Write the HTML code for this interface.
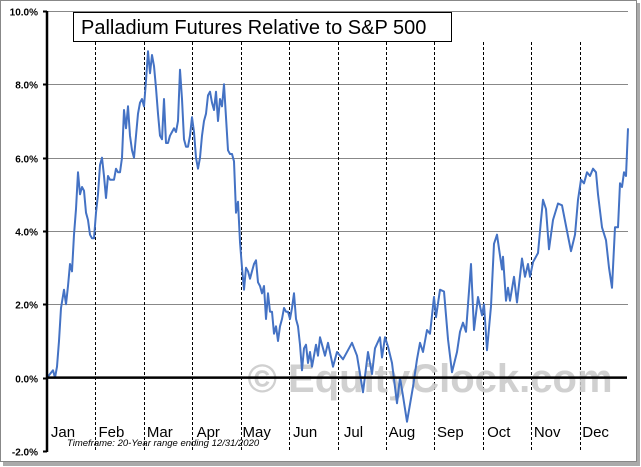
<!DOCTYPE html>
<html><head><meta charset="utf-8"><style>
body{margin:0;background:#fff;}
svg{display:block;font-family:"Liberation Sans",sans-serif;}
</style></head><body>
<svg width="641" height="467" viewBox="0 0 641 467">
<rect x="3" y="3" width="637" height="463" fill="#aaa"/>
<rect x="0.5" y="0.5" width="636" height="461" fill="#fff" stroke="#888"/>
<g id="grid"></g>
<g id="months"></g>
<text x="430" y="392" font-size="40" font-weight="bold" fill="#c8c8c8" text-anchor="middle" opacity="0.85">© EquityClock.com</text>
<g id="yticks"></g>
<path id="series" fill="none" stroke="#4472C4" stroke-width="2" stroke-linejoin="round"/>
<g id="axes"></g>
<g id="mlabels"></g>
<rect x="73.5" y="12.5" width="378" height="29" fill="#fff" stroke="#000"/>
<text x="81" y="34" font-size="20" fill="#000">Palladium Futures Relative to S&amp;P 500</text>
<text x="67" y="446" font-size="9.5" font-style="italic" fill="#000">Timeframe:   20-Year range  ending 12/31/2020</text>
</svg>
<script>
const yTicks=[-2,0,2,4,6,8,10];
const monthLabels=["Jan","Feb","Mar","Apr","May","Jun","Jul","Aug","Sep","Oct","Nov","Dec"];
const sessions=[0,3,6,8,10,12,14,17,19,21,23,25,27,29,31,33,35,37,39,41,43,45,47,49,51,53,55,57,59,61,63,65,67,69,71,73,75,77,79,81,83,85,87,89,91,93,95,97,99,101,103,105,107,109,111,113,115,117,119,121,123,125,127,129,131,133,135,137,139,141,143,145,147,149,151,153,155,157,159,161,163,165,167,169,171,173,175,177,179,181,183,185,187,189,191,193,195,197,199,201,203,205,207,209,211,213,215,217,219,221,223,225,227,229,231,233,235,237,239,241,243,245,247,249,251,253,255,257,259,261,263,265,267,269,271,273,278,281,286,290,296,305,310,316,321,325,328,333,335,338,341,345,350,353,356,360,366,370,373,376,380,383,387,389,393,397,401,405,410,413,416,419,424,427,431,435,437,440,444,447,450,455,456,459,461,463,467,470,475,478,481,483,486,491,494,496,499,502,506,511,515,520,524,528,531,534,537,540,543,546,549,551,555,559,562,565,568,571,573,575,577,579,581];
const values=[0,.1,.2,0,.3,1.0,1.9,2.4,2.0,2.5,3.1,2.9,3.9,4.6,5.6,5.0,5.2,5.1,4.5,4.3,3.9,3.8,3.8,4.5,5.0,5.8,6.0,5.5,4.9,5.5,5.4,5.4,5.4,5.7,5.6,5.6,6.0,7.3,6.8,7.4,6.6,6.2,6.0,6.6,7.2,7.5,7.6,7.4,8.1,8.9,8.3,8.8,8.5,7.9,7.2,6.6,6.5,7.6,6.4,6.4,6.6,6.7,6.8,6.7,7.0,8.4,7.6,6.5,6.3,6.3,6.6,7.1,6.7,6.0,5.7,6.0,6.6,7.0,7.2,7.7,7.8,7.5,7.3,7.8,7.0,7.6,7.4,8.0,7.1,6.2,6.1,6.1,5.9,4.5,4.8,3.7,3.0,2.4,3.0,2.9,2.7,2.9,3.1,3.2,2.6,2.5,2.3,2.5,1.6,2.3,1.8,1.8,1.2,1.4,1.0,1.4,1.6,1.9,1.8,1.8,1.6,1.9,2.3,1.6,1.4,0.9,0.2,0.8,0.9,0.4,0.7,0.3,0.6,0.9,0.6,1.1,.6,.95,.3,.7,.5,.95,.6,-.4,.7,.1,.8,1.1,.55,1.1,.85,.4,-.7,0,-.5,-1.2,-.25,.5,.95,.7,1.3,1.2,2.2,1.65,2.4,2.35,1.05,.15,.7,1.25,1.5,1.25,3.1,1.3,2.2,1.7,2.0,.75,1.95,3.65,3.9,2.95,3.3,2.1,2.45,2.1,2.75,2.05,3.25,2.75,3.1,2.75,3.15,3.4,4.3,4.85,4.6,3.5,4.3,4.75,4.7,4.0,3.45,3.9,4.85,5.4,5.3,5.6,5.5,5.7,5.6,5.0,4.1,3.75,3.0,2.45,4.1,4.1,5.3,5.2,5.6,5.5,6.8];
const NS="http://www.w3.org/2000/svg";
const X0=47,X1=628,Y0=451,Y1=11;
const xs=s=>X0+(s/581)*(X1-X0);
const ys=v=>Y0-(v+2)/12*(Y0-Y1);
const mx=m=>X0+m*(X1-X0)/12;
function mk(tag,attrs,parent,txt){const e=document.createElementNS(NS,tag);for(const k in attrs)e.setAttribute(k,attrs[k]);if(txt!==undefined)e.textContent=txt;document.getElementById(parent).appendChild(e);return e;}
yTicks.forEach(t=>{
  const y=Math.round(ys(t))+0.5;
  if(t!==0&&t!==-2){const g=mk('line',{x1:X0,x2:X1,y1:y,y2:y,stroke:'#888','stroke-width':1},'grid');
  
  }
  const tk=mk('line',{x1:X0-4,x2:X0,y1:y,y2:y,stroke:'#000','stroke-width':2},'yticks');
  
  
  const l=mk('text',{x:38,y:y+4,'font-size':10,'font-weight':'bold','text-anchor':'end'},'yticks',t.toFixed(1)+'%');
  
  
});
monthLabels.forEach((m,i)=>{
  if(i>0){const x=Math.round(mx(i))+0.5;const d=mk('line',{x1:x,x2:x,y1:42,y2:451,stroke:'#000','stroke-width':1,'stroke-dasharray':'3,2'},'months');
  
  }
  const t=mk('text',{x:mx(i)+16,y:437,'font-size':15,'text-anchor':'middle'},'mlabels',m);
  
  
});
let d='';sessions.forEach((s,i)=>{d+=(i?'L':'M')+xs(s).toFixed(1)+','+ys(values[i]).toFixed(1);});
document.getElementById('series').setAttribute('d',d);
const ya=mk('line',{x1:X0,x2:X0,y1:Y1,y2:Y0+1,stroke:'#000','stroke-width':2.5},'axes');


const zy=ys(0);
const za=mk('line',{x1:X0,x2:X1-1,y1:zy,y2:zy,stroke:'#000','stroke-width':2.5},'axes');


</script>
</body></html>
